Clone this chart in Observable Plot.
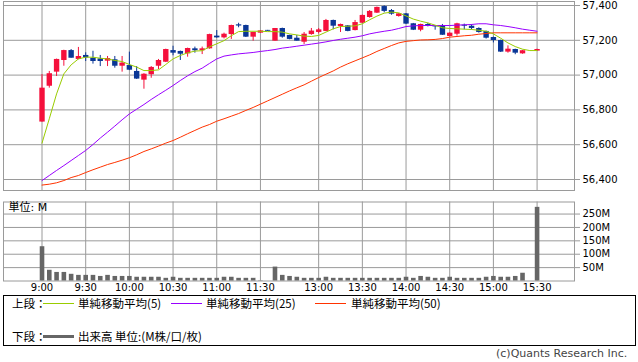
<!DOCTYPE html>
<html><head><meta charset="utf-8">
<script src="https://cdn.jsdelivr.net/npm/d3@7"></script>
<script src="https://cdn.jsdelivr.net/npm/@observablehq/plot@0.6"></script>
<style>
html,body{margin:0;padding:0;background:#fff}
body{width:638px;height:362px;position:relative;overflow:hidden;font-family:"DejaVu Sans","Noto Sans CJK JP",sans-serif;color:#000}
#upper,#lower{position:absolute;left:0}
#upper{top:0}
#lower{top:195px}
#legend{position:absolute;left:3px;top:295px;width:633px;height:51px;box-sizing:border-box;border:1px solid #000}
.lg{position:absolute;font-family:"Noto Sans CJK JP","DejaVu Sans",sans-serif;font-size:11.5px;line-height:14px;white-space:nowrap}
.sw{position:absolute;height:1px}
#copy{position:absolute;left:496px;top:347px;font-family:"DejaVu Sans",sans-serif;font-size:11px;color:#444;white-space:nowrap}
</style></head>
<body>
<div id="upper"></div>
<div id="lower"></div>
<div id="legend"></div>
<div id="copy">(c)Quants Research Inc.</div>
<script>
// ---- data ----
const timeSlots = [0, 6, 12, 18, 24, 30, 38, 44, 50, 56, 62, 68];
const timeLabels = ["9:00","9:30","10:00","10:30","11:00","11:30","13:00","13:30","14:00","14:30","15:00","15:30"];
const priceTicks = [56400, 56600, 56800, 57000, 57200, 57400];
const volTicks = [50, 100, 150, 200, 250];

const candleSlot = [0,1,2,3,4,5,6,7,8,9,10,11,12,13,14,15,16,17,18,19,20,21,22,23,24,25,26,27,28,29,30,31,32,33,34,35,36,37,38,39,40,41,42,43,44,45,46,47,48,49,50,51,52,53,54,55,56,57,58,59,60,61,62,63,64,65,66,68];
const openP  = [56730,56936,57017,57084,57141,57090,57113,57097,57093,57080,57088,57051,57055,57021,56971,57002,57051,57074,57141,57136,57122,57151,57140,57151,57224,57214,57233,57289,57285,57218,57241,57257,57195,57268,57228,57212,57189,57233,57245,57251,57314,57279,57283,57256,57298,57331,57356,57394,57371,57337,57352,57295,57258,57291,57281,57281,57222,57235,57287,57281,57268,57251,57216,57199,57132,57147,57122,57138];
const highP  = [57003,57021,57092,57143,57147,57159,57128,57137,57113,57107,57107,57107,57132,57049,57008,57049,57090,57149,57166,57138,57155,57161,57161,57235,57256,57241,57287,57298,57287,57247,57256,57257,57268,57270,57229,57228,57245,57268,57268,57320,57316,57293,57285,57314,57345,57371,57391,57398,57377,57354,57354,57297,57293,57298,57281,57291,57243,57298,57293,57289,57272,57253,57218,57201,57168,57149,57142,57149];
const lowP   = [56730,56925,56992,57051,57097,57088,57078,57063,57049,57049,57040,57017,57026,56975,56919,56982,57032,57072,57111,57084,57103,57126,57118,57149,57212,57208,57205,57272,57216,57195,57241,57251,57195,57212,57203,57195,57176,57229,57237,57250,57260,57245,57249,57254,57296,57327,57354,57358,57344,57333,57291,57256,57249,57277,57258,57228,57220,57224,57260,57260,57241,57207,57185,57130,57126,57117,57120,57136];
const closeP = [56925,57008,57090,57141,57097,57107,57099,57078,57078,57095,57051,57069,57028,56977,57005,57044,57084,57147,57126,57120,57153,57140,57151,57233,57214,57235,57285,57282,57218,57245,57254,57252,57268,57218,57205,57195,57235,57253,57260,57314,57281,57291,57251,57302,57343,57366,57389,57366,57350,57352,57293,57258,57291,57284,57277,57229,57241,57295,57281,57268,57245,57212,57199,57132,57149,57126,57140,57147];

const maSlot = d3.range(69);
const ma5  = [56609,56749,56892,57007,57059,57093,57103,57103,57097,57093,57084,57078,57061,57046,57026,57026,57030,57061,57093,57113,57128,57138,57140,57162,57180,57198,57226,57250,57252,57252,57252,57250,57250,57247,57237,57231,57224,57222,57228,57247,57266,57279,57281,57283,57295,57318,57339,57356,57362,57358,57340,57322,57310,57300,57287,57272,57268,57266,57264,57262,57258,57252,57237,57212,57185,57164,57149,57141,57141];
const ma25 = [56394,56423,56452,56480,56509,56538,56567,56601,56638,56672,56707,56743,56777,56804,56831,56860,56887,56913,56940,56969,56996,57020,57040,57067,57093,57109,57116,57122,57126,57130,57136,57141,57147,57155,57160,57166,57172,57178,57184,57191,57199,57206,57212,57218,57226,57237,57245,57252,57258,57268,57279,57283,57285,57285,57285,57285,57285,57287,57289,57291,57295,57295,57289,57285,57279,57272,57264,57258,57252];
const ma50 = [56368,56373,56381,56394,56411,56423,56440,56456,56471,56486,56498,56511,56525,56542,56561,56576,56592,56609,56624,56643,56663,56682,56701,56716,56735,56749,56764,56779,56797,56814,56833,56852,56871,56890,56909,56927,56944,56965,56986,57005,57024,57046,57065,57082,57099,57116,57136,57153,57170,57185,57194,57198,57202,57203,57205,57210,57218,57222,57226,57229,57235,57239,57243,57243,57243,57243,57243,57243,57243];

const volume = [128,40,32,32,25,21,21,21,17,21,17,17,17,14,14,14,14,10,14,10,10,10,10,10,10,14,14,10,10,10,1,0,52,21,17,14,10,10,10,14,10,10,10,10,10,10,10,10,10,10,14,10,17,14,10,10,14,10,10,10,10,14,17,14,14,17,29,0,275];

// ---- tables built from arrays ----
const candles = candleSlot.map((s, i) => ({slot: s, open: openP[i], high: highP[i], low: lowP[i], close: closeP[i]}));
const maRows = maSlot.map((s, i) => ({slot: s, ma5: ma5[i], ma25: ma25[i], ma50: ma50[i]}));
const volRows = maSlot.map((s, i) => ({slot: s, v: volume[i]})).filter(d => d.v > 0);

const RED = "#f5103c", BLUE = "#0a3796", GRID = "#9a9a9a";
const C5 = "#99cc00", C25 = "#9900ff", C50 = "#ff3300";
const xDomain = [-5.29, 73.14];
const col = d => d.close >= d.open ? RED : BLUE;
const fontStyle = {fontFamily: "'DejaVu Sans', 'Noto Sans CJK JP', sans-serif", fontSize: "10px", background: "transparent", overflow: "visible"};

const upper = Plot.plot({
  width: 638, height: 195,
  marginLeft: 3, marginRight: 64, marginTop: 1, marginBottom: 5,
  style: fontStyle,
  x: {domain: xDomain, axis: null},
  y: {domain: [56336.8, 57423], axis: null},
  marks: [
    Plot.ruleY(priceTicks, {stroke: GRID}),
    Plot.ruleX(timeSlots, {stroke: GRID}),
    Plot.frame({stroke: GRID}),
    Plot.axisY(priceTicks, {anchor: "right", tickSize: 5, tickPadding: 3, tickFormat: d3.format(","), stroke: GRID, fill: "#000", fontSize: 10, label: null}),
    Plot.ruleX(candles, {x: "slot", y1: "low", y2: "high", stroke: col, strokeWidth: 1}),
    Plot.ruleX(candles, {x: "slot", y1: "open", y2: "close", stroke: col, strokeWidth: 5.4}),
    Plot.line(maRows, {x: "slot", y: "ma50", stroke: C50, strokeWidth: 1}),
    Plot.line(maRows, {x: "slot", y: "ma25", stroke: C25, strokeWidth: 1}),
    Plot.line(maRows, {x: "slot", y: "ma5", stroke: C5, strokeWidth: 1})
  ]
});
document.getElementById("upper").append(upper);

const lower = Plot.plot({
  width: 638, height: 100,
  marginLeft: 3, marginRight: 64, marginTop: 6.5, marginBottom: 14.5,
  style: fontStyle,
  x: {domain: xDomain, axis: null},
  y: {domain: [0, 295], axis: null},
  marks: [
    Plot.ruleY(volTicks, {stroke: GRID}),
    Plot.ruleX(timeSlots, {stroke: GRID}),
    Plot.frame({stroke: GRID}),
    Plot.axisY(volTicks, {anchor: "right", tickSize: 5, tickPadding: 3, tickFormat: d => d + "M", stroke: GRID, fill: "#000", fontSize: 10, label: null}),
    Plot.axisX(timeSlots, {anchor: "bottom", tickSize: 0, tickPadding: 3, tickFormat: d => timeLabels[timeSlots.indexOf(d)], fill: "#000", fontSize: 10, label: null}),
    Plot.ruleX(volRows, {x: "slot", y1: 0, y2: "v", stroke: "#666", strokeWidth: 4.6}),
    Plot.text(["単位: M"], {frameAnchor: "top-left", dx: 5, dy: 1, text: d => d, textAnchor: "start", lineAnchor: "top", fontSize: 11, fill: "#000"})
  ]
});
document.getElementById("lower").append(lower);

// ---- legend ----
const lgItems = [
  {label: "上段：", x: 12, y: 303},
  {label: "単純移動平均(5)", x: 78, y: 303, swatch: C5, sx: 43, sw: 31, sh: 1},
  {label: "単純移動平均(25)", x: 206, y: 303, swatch: C25, sx: 171, sw: 31, sh: 1},
  {label: "単純移動平均(50)", x: 351, y: 303, swatch: C50, sx: 315, sw: 31, sh: 1},
  {label: "下段：", x: 12, y: 336},
  {label: "出来高 単位:(M株/口/枚)", x: 78, y: 336, swatch: "#666", sx: 43, sw: 31, sh: 3}
];
const body = document.body;
for (const it of lgItems) {
  const t = document.createElement("div");
  t.className = "lg";
  t.textContent = it.label;
  t.style.left = it.x + "px";
  t.style.top = (it.y - 7) + "px";
  body.append(t);
  if (it.swatch) {
    const s = document.createElement("div");
    s.className = "sw";
    s.style.left = it.sx + "px";
    s.style.width = it.sw + "px";
    s.style.height = it.sh + "px";
    s.style.top = (it.y - Math.floor(it.sh / 2)) + "px";
    s.style.background = it.swatch;
    body.append(s);
  }
}
</script>
</body></html>
